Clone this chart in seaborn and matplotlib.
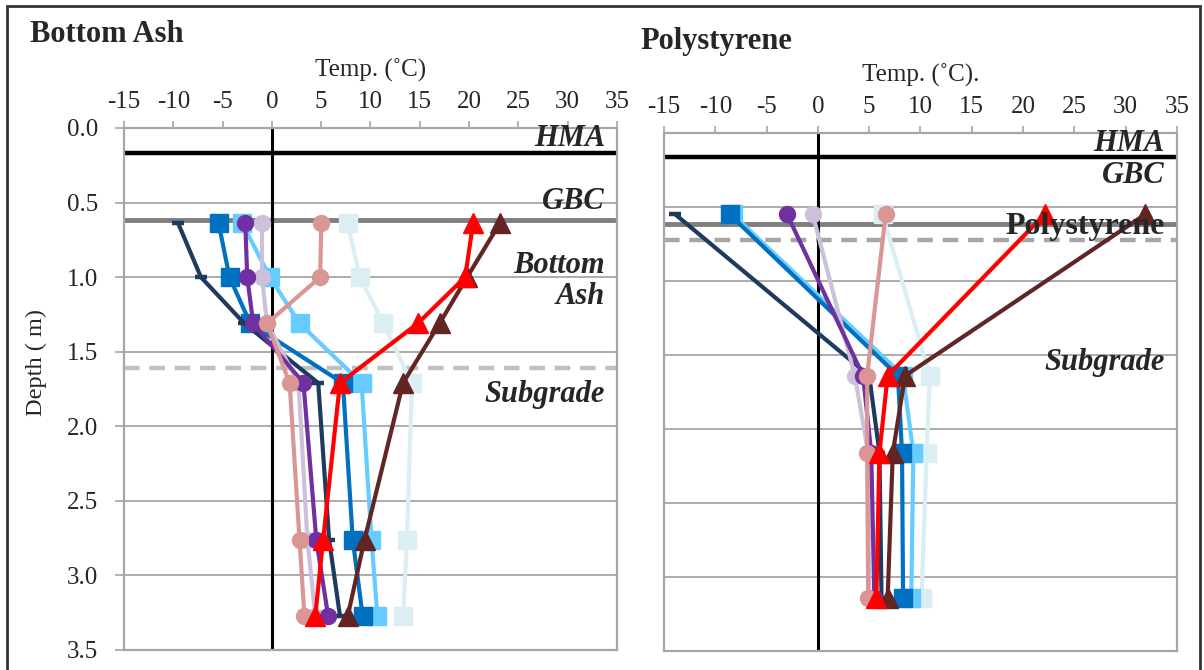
import matplotlib
matplotlib.use("Agg")
import matplotlib.pyplot as plt
from matplotlib.patches import Rectangle
import seaborn as sns
import pandas as pd

# ---------------- data ----------------
series_names = ["S1", "S2", "S3", "S4", "S5", "S6", "S7", "S8", "S9"]
series_colors = ["#DAEEF3", "#66CCFF", "#0070C0", "#1F3A5F",
                 "#CCC0DA", "#7030A0", "#DA9694", "#632523", "#FF0000"]
series_markers = ["s", "s", "s", "_", "o", "o", "o", "^", "^"]

# Bottom Ash panel
ash_depth = [0.64, 1.0, 1.31, 1.71, 2.76, 3.27]
ash_temps = [
    [7.7, 8.9, 11.3, 14.2, 13.7, 13.3],     # very light blue
    [-3.0, -0.2, 2.8, 9.1, 10.1, 10.7],     # light blue
    [-5.4, -4.3, -2.2, 7.2, 8.2, 9.2],      # medium blue
    [-9.5, -7.2, -2.8, 4.7, 5.8, 6.9],      # navy
    [-1.0, -1.0, -0.5, 2.7, 3.6, 4.4],      # lavender
    [-2.7, -2.5, -1.9, 3.2, 4.5, 5.7],      # purple
    [5.0, 4.9, -0.5, 1.8, 2.8, 3.3],        # pink
    [23.1, 19.8, 17.0, 13.3, 9.4, 7.7],     # brown
    [20.4, 19.6, 14.8, 6.9, 5.2, 4.4],      # red
]

# Polystyrene panel
poly_depth = [0.55, 1.64, 2.16, 3.14]
poly_temps = [
    [6.3, 10.9, 10.6, 10.1],
    [-8.3, 8.3, 9.3, 9.1],
    [-8.6, 7.8, 8.2, 8.3],
    [-13.9, 5.0, 6.0, 6.2],
    [-0.5, 3.6, 4.9, 5.0],
    [-3.0, 4.4, 5.2, 5.5],
    [6.6, 4.8, 4.8, 4.9],
    [31.9, 8.5, 7.3, 6.8],
    [22.1, 6.8, 6.0, 5.7],
]

x_ticks = [-15, -10, -5, 0, 5, 10, 15, 20, 25, 30, 35]
y_ticks = [0.0, 0.5, 1.0, 1.5, 2.0, 2.5, 3.0, 3.5]

ash_layers = {"hma": 0.168, "gbc": 0.62, "ash": 1.61}
poly_layers = {"hma": 0.16, "gbc": 0.615, "poly": 0.72}

# ---------------- style ----------------
sns.set_style("white")
plt.rcParams["font.family"] = ["Liberation Serif", "DejaVu Serif"]

W, H = 1204, 670
fig = plt.figure(figsize=(W / 100, H / 100), dpi=100)

def px_axes(left, top, right, bottom):
    return fig.add_axes([left / W, 1 - bottom / H, (right - left) / W, (bottom - top) / H])

ax1 = px_axes(124, 128, 617, 650)
ax2 = px_axes(664, 133, 1177, 651)

def long_frame(depths, temps):
    rows = []
    for name, vals in zip(series_names, temps):
        for d, t in zip(depths, vals):
            rows.append({"series": name, "depth": d, "temp": t})
    return pd.DataFrame(rows)

grid_c = "#A6A6A6"
TICK_FS = 18

def setup(ax, ylabels):
    ax.set_xlim(-15, 35)
    ax.set_ylim(3.5, 0)
    ax.xaxis.tick_top()
    ax.xaxis.set_label_position("top")
    ax.set_xticks(x_ticks)
    ax.set_xticklabels([str(v) for v in x_ticks], fontsize=TICK_FS)
    ax.set_yticks(y_ticks)
    if ylabels:
        ax.set_yticklabels([f"{v:.1f}" for v in y_ticks], fontsize=TICK_FS)
        ax.tick_params(axis="y", length=6.5, color=grid_c, width=1.2, pad=12, left=True)
    else:
        ax.set_yticklabels([])
        ax.tick_params(axis="y", length=0, left=False)
    ax.tick_params(axis="x", length=5, color=grid_c, width=1.2, pad=6, top=True, bottom=False)
    for s in ax.spines.values():
        s.set_color(grid_c)
        s.set_linewidth(1.6)
    for y in y_ticks[1:-1]:
        ax.axhline(y, color=grid_c, lw=1.3, zorder=0.5)
    ax.axvline(0, color="black", lw=2.2, zorder=1)
    ax.set_ylabel("")

MARKER_SIZE = {"s": 12.5, "o": 11.5, "^": 14, "_": 9}

def draw(ax, depths, temps):
    df = long_frame(depths, temps)
    for name, c, m in zip(series_names, series_colors, series_markers):
        sub = df[df["series"] == name]
        mew = 3.2 if m == "_" else 1.0
        sns.lineplot(data=sub, x="temp", y="depth", sort=False, estimator=None,
                     orient="y", color=c, marker=m, markersize=MARKER_SIZE[m],
                     markeredgecolor=c, markerfacecolor=c, markeredgewidth=mew,
                     linewidth=3.0, ax=ax, zorder=3, legend=False)
    ax.set_xlabel("")
    ax.set_ylabel("")

# Left panel layers
ax1.axhline(ash_layers["hma"], color="black", lw=3.2, zorder=1)
ax1.axhline(ash_layers["gbc"], color="#7F7F7F", lw=3.5, zorder=1)
ax1.axhline(ash_layers["ash"], color="#C0C0C0", lw=3.2, ls=(0, (3.5, 2.2)), zorder=1)
draw(ax1, ash_depth, ash_temps)
setup(ax1, True)

# Right panel layers
ax2.axhline(poly_layers["hma"], color="black", lw=3.2, zorder=1)
ax2.axhline(poly_layers["gbc"], color="#7F7F7F", lw=3.5, zorder=1)
ax2.axhline(poly_layers["poly"], color="#A6A6A6", lw=3.2, ls=(0, (3.5, 2.2)), zorder=1)
draw(ax2, poly_depth, poly_temps)
setup(ax2, False)

ax1.set_xlabel("Temp. (\u02daC)", fontsize=18, labelpad=10)
ax2.set_xlabel("Temp. (\u02daC).", fontsize=18, labelpad=10)

lab = dict(fontsize=22, fontweight="bold", style="italic", ha="right", va="center", zorder=5)
ax1.text(33.8, 0.07, "HMA", **lab)
ax1.text(33.8, 0.49, "GBC", **lab)
ax1.text(33.8, 0.92, "Bottom", **lab)
ax1.text(33.8, 1.13, "Ash", **lab)
ax1.text(33.8, 1.79, "Subgrade", **lab)

ax2.text(33.8, 0.07, "HMA", **lab)
ax2.text(33.8, 0.29, "GBC", **lab)
ax2.text(33.8, 0.63, "Polystyrene", fontsize=23, fontweight="bold", ha="right",
         va="center", zorder=5)
ax2.text(33.8, 1.55, "Subgrade", **lab)

fig.text(30 / W, 1 - 35 / H, "Bottom Ash", fontsize=22, fontweight="bold", va="center", ha="left")
fig.text(640 / W, 1 - 41 / H, "Polystyrene", fontsize=22, fontweight="bold", va="center", ha="left")
fig.text(36 / W, 1 - 363 / H, "Depth ( m)", fontsize=17.5, rotation=90, va="center", ha="center")

# outer frame
fig.patches.append(Rectangle((7 / W, -0.05), (1200 - 7) / W, 1 - 6 / H + 0.05,
                             transform=fig.transFigure, fill=False,
                             edgecolor="#333333", lw=2))

fig.savefig("out.png", dpi=100)
